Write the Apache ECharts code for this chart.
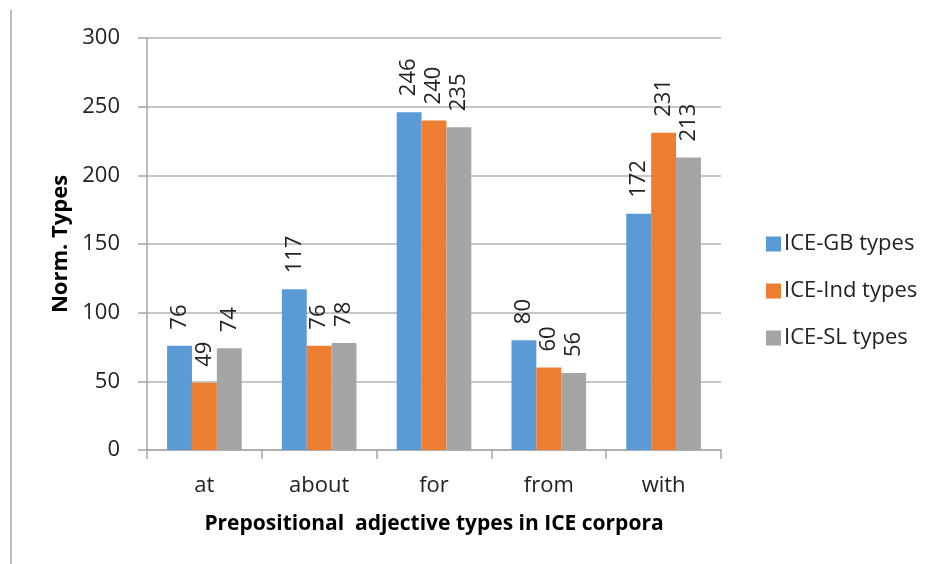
<!DOCTYPE html>
<html>
<head>
<meta charset="utf-8">
<script src="https://cdn.jsdelivr.net/npm/echarts@6/dist/echarts.min.js"></script>
<style>html,body{margin:0;padding:0;background:#fff;}#c{width:934px;height:564px;}</style>
</head>
<body>
<div id="c"></div>
<script>
const categories = ['at', 'about', 'for', 'from', 'with'];
const seriesNames = ['ICE-GB types', 'ICE-Ind types', 'ICE-SL types'];
const gbValues = [76, 117, 246, 80, 172];
const indValues = [49, 76, 240, 60, 231];
const slValues = [74, 78, 235, 56, 213];
const yTicks = [0, 50, 100, 150, 200, 250, 300];

const colors = ['#5B9BD5', '#ED7D31', '#A5A5A5'];
const FONT = '"Open Sans", sans-serif';
const values = [gbValues, indValues, slValues];

const chart = echarts.init(document.getElementById('c'), null, {renderer: 'canvas'});
chart.setOption({
  animation: false,
  backgroundColor: '#fff',
  textStyle: {fontFamily: FONT},
  graphic: [{
    type: 'line',
    shape: {x1: 11, y1: 10, x2: 11, y2: 564},
    style: {stroke: '#a6a6a6', lineWidth: 1.5}
  }],
  grid: {left: 147, right: 213, top: 38, bottom: 114, containLabel: false},
  legend: {
    orient: 'vertical',
    left: 761,
    top: 228,
    itemWidth: 15,
    itemHeight: 15,
    itemGap: 25,
    icon: 'rect',
    textStyle: {fontFamily: FONT, fontSize: 22, color: '#222', padding: [0, 0, 0, -2]},
    data: seriesNames
  },
  xAxis: {
    type: 'category',
    data: categories,
    name: 'Prepositional  adjective types in ICE corpora',
    nameLocation: 'middle',
    nameGap: 64,
    nameTextStyle: {fontFamily: FONT, fontSize: 21, fontWeight: 'bold', color: '#000'},
    axisLine: {show: true, lineStyle: {color: '#a6a6a6', width: 1.5}},
    axisTick: {show: true, length: 9, lineStyle: {color: '#a6a6a6', width: 1.5}},
    axisLabel: {fontFamily: FONT, fontSize: 22, color: '#222', margin: 25}
  },
  yAxis: {
    type: 'value',
    min: 0,
    max: 300,
    interval: 50,
    name: 'Norm. Types',
    nameLocation: 'middle',
    nameRotate: 90,
    nameGap: 75,
    nameTextStyle: {fontFamily: FONT, fontSize: 22, fontWeight: 'bold', color: '#000'},
    axisLine: {show: true, lineStyle: {color: '#a6a6a6', width: 1.5}},
    axisTick: {show: true, length: 9, lineStyle: {color: '#a6a6a6', width: 1.5}},
    axisLabel: {fontFamily: FONT, fontSize: 22, color: '#222', margin: 27,
      formatter: v => yTicks.includes(v) ? String(v) : ''},
    splitLine: {show: true, lineStyle: {color: '#b3b3b3', width: 1.5}}
  },
  series: seriesNames.map((n, i) => ({
    name: n,
    type: 'bar',
    data: values[i],
    barGap: '0%',
    barCategoryGap: '35%',
    itemStyle: {color: colors[i]},
    label: {
      show: true,
      position: 'top',
      rotate: 90,
      align: 'left',
      verticalAlign: 'middle',
      distance: 16,
      fontFamily: FONT,
      fontSize: 22,
      color: '#222'
    }
  }))
});
</script>
</body>
</html>
